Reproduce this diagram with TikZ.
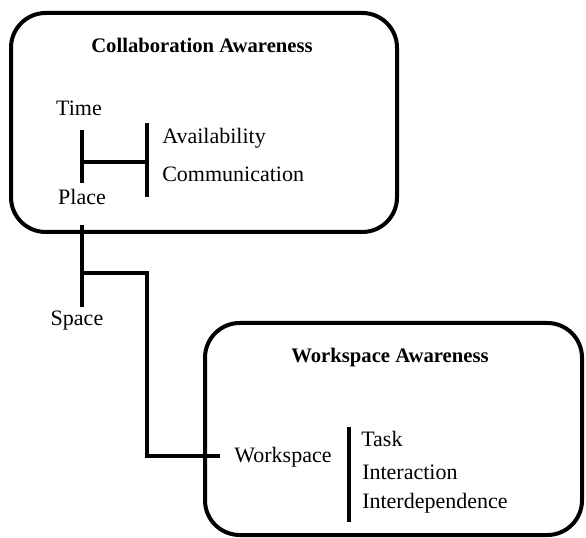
\documentclass[tikz,border=0pt]{standalone}
\usepackage{fontspec}
\setmainfont{Liberation Serif}
\usetikzlibrary{positioning, calc}

\begin{document}
\begin{tikzpicture}[x=0.75pt, y=-0.75pt,
        box/.style={draw, line width=3pt, rounded corners=26pt, inner sep=0pt},
        bar/.style={line width=3pt},
        ttl/.style={inner sep=0pt, font=\fontsize{15.5}{18}\selectfont\bfseries},
        lbl/.style={inner sep=0pt, font=\fontsize{16.5}{19}\selectfont}]
        \useasboundingbox (0,0) rectangle (586,538);

        % Collaboration Awareness
        \node (collab) [box, minimum width=289.5pt, minimum height=164.25pt] at (204,122.5) {};
        \node (ctitle) [ttl] at (202,45) {Collaboration Awareness};
        \node (time) [lbl] at (79,108) {Time};
        \node (place) [lbl] at (82,197) {Place};
        \node (avail) [lbl, anchor=west] at (162,138) {Availability};
        \node (comm) [lbl, anchor=west] at (162,174) {Communication};

        \coordinate (t1) at (82,130);
        \coordinate (t2) at (82,183);
        \coordinate (tj) at (82,162);
        \coordinate (a1) at (147,123);
        \coordinate (a2) at (147,197);
        \draw[bar] (t1) -- (t2);
        \draw[bar] (a1) -- (a2);
        \draw[bar] (tj) -- (tj -| a1);

        % Space
        \coordinate (s1) at (82,225);
        \coordinate (s2) at (82,307);
        \coordinate (sj) at (82,273);
        \node (space) [lbl] at (77,321) {Space};
        \draw[bar] (s1) -- (s2);

        % Workspace Awareness
        \node (work) [box, minimum width=282.75pt, minimum height=159pt] at (393.5,429) {};
        \node (wtitle) [ttl] at (390,358) {Workspace Awareness};
        \node (wspace) [lbl] at (283,457) {Workspace};
        \node (task) [lbl, anchor=west] at (361,439) {Task};
        \node (inter) [lbl, anchor=west] at (362,472) {Interaction};
        \node (indep) [lbl, anchor=west] at (362,503) {Interdependence};

        \coordinate (w0) at (220,456);
        \coordinate (b1) at (349,427);
        \coordinate (b2) at (349,522);
        \draw[bar] (b1) -- (b2);

        % Space -> Workspace
        \draw[bar] (sj) -- ++(65,0) |- (w0);
\end{tikzpicture}
\end{document}
